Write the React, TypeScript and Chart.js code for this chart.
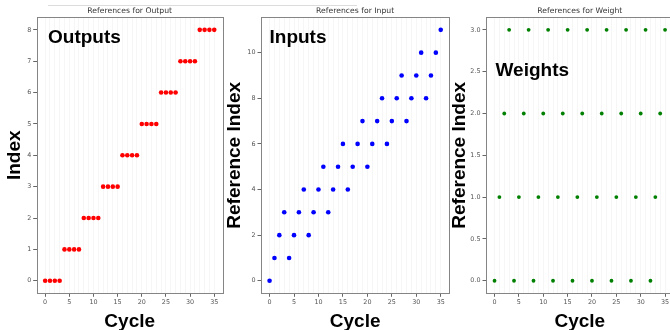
import React, { useEffect, useRef } from "react";
import { Chart, registerables } from "chart.js";

Chart.register(...registerables);

// ---------- data ----------
const cycles = [0, 1, 2, 3, 4, 5, 6, 7, 8, 9, 10, 11, 12, 13, 14, 15, 16, 17, 18, 19, 20, 21, 22, 23, 24, 25, 26, 27, 28, 29, 30, 31, 32, 33, 34, 35];
const outputIndex = [0, 0, 0, 0, 1, 1, 1, 1, 2, 2, 2, 2, 3, 3, 3, 3, 4, 4, 4, 4, 5, 5, 5, 5, 6, 6, 6, 6, 7, 7, 7, 7, 8, 8, 8, 8];
const inputIndex = [0, 1, 2, 3, 1, 2, 3, 4, 2, 3, 4, 5, 3, 4, 5, 6, 4, 5, 6, 7, 5, 6, 7, 8, 6, 7, 8, 9, 7, 8, 9, 10, 8, 9, 10, 11];
const weightIndex = [0, 1, 2, 3, 0, 1, 2, 3, 0, 1, 2, 3, 0, 1, 2, 3, 0, 1, 2, 3, 0, 1, 2, 3, 0, 1, 2, 3, 0, 1, 2, 3, 0, 1, 2, 3];

const xTickLabels = [0, 5, 10, 15, 20, 25, 30, 35];
const outputYTicks = [0, 1, 2, 3, 4, 5, 6, 7, 8];
const inputYTicks = [0, 2, 4, 6, 8, 10];
const weightYTicks = [0, 0.5, 1, 1.5, 2, 2.5, 3];

const TICK_FONT = { family: "DejaVu Sans", size: 6.4 };
const BIG_FONT = "Liberation Sans";

const framePlugin = {
  id: "frame",
  afterDraw(chart: any) {
    const { ctx, chartArea } = chart;
    ctx.save();
    ctx.strokeStyle = "#858585";
    ctx.lineWidth = 1;
    ctx.strokeRect(
      Math.round(chartArea.left) + 0.5,
      Math.round(chartArea.top) + 0.5,
      Math.round(chartArea.right) - Math.round(chartArea.left),
      Math.round(chartArea.bottom) - Math.round(chartArea.top)
    );
    ctx.restore();
  },
};

const annotPlugin = {
  id: "annot",
  afterDraw(chart: any, _args: any, opts: any) {
    if (!opts || !opts.text) return;
    const { ctx } = chart;
    ctx.save();
    ctx.font = `bold ${opts.size}px "${BIG_FONT}"`;
    ctx.fillStyle = "#000";
    ctx.textBaseline = "alphabetic";
    ctx.textAlign = "left";
    ctx.fillText(opts.text, opts.x, opts.y);
    ctx.restore();
  },
};

type PanelCfg = {
  left: number;
  width: number;
  padRight: number;
  yWidth: number;
  yTitlePad: number;
  title: string;
  yTitle: string;
  yMin: number;
  yMax: number;
  yTicks: number[];
  yFmt: (v: number) => string;
  values: number[];
  color: string;
  radius: number;
  annot: { text: string; x: number; y: number; size: number };
};

const H = 333;

function Panel({ cfg }: { cfg: PanelCfg }) {
  const ref = useRef<HTMLCanvasElement | null>(null);
  useEffect(() => {
    if (!ref.current) return;
    const chart = new Chart(ref.current, {
      type: "scatter",
      data: {
        datasets: [
          {
            data: cycles.map((c, i) => ({ x: c, y: cfg.values[i] })),
            backgroundColor: cfg.color,
            borderWidth: 0,
            pointRadius: cfg.radius,
            pointHoverRadius: cfg.radius,
          },
        ],
      },
      options: {
        animation: false,
        responsive: false,
        maintainAspectRatio: false,
        devicePixelRatio: 1,
        events: [],
        layout: { padding: { left: 0, right: cfg.padRight, top: 0, bottom: 0 } },
        plugins: {
          legend: { display: false },
          tooltip: { enabled: false },
          title: {
            display: true,
            text: cfg.title,
            fullSize: false,
            color: "#333",
            font: { family: "DejaVu Sans", size: 7.7, weight: "normal", lineHeight: 1.2 },
            padding: { top: 6.5, bottom: 1.56 },
          },
          annot: cfg.annot,
        } as any,
        scales: {
          x: {
            type: "linear",
            min: -1.75,
            max: 36.75,
            afterBuildTicks: (s: any) => {
              s.ticks = cycles.map((v) => ({ value: v }));
            },
            afterFit: (s: any) => {
              s.height = H - 293.3;
            },
            ticks: {
              autoSkip: false,
              maxRotation: 0,
              padding: 1.5,
              color: "#555",
              font: TICK_FONT,
              callback: (v: any) => (xTickLabels.includes(Number(v)) ? String(v) : ""),
            },
            grid: {
              drawOnChartArea: true,
              color: "rgba(0,0,0,0.035)",
              tickColor: (ctx: any) =>
                ctx.tick && xTickLabels.includes(ctx.tick.value) ? "#666" : "rgba(0,0,0,0)",
              tickLength: 3.5,
              lineWidth: 1,
            },
            border: { display: false },
            title: {
              display: true,
              text: "Cycle",
              color: "#000",
              font: { family: BIG_FONT, size: 19, weight: "bold", lineHeight: 1.2 },
              padding: { top: 0, bottom: 0.3 },
            },
          },
          y: {
            type: "linear",
            min: cfg.yMin,
            max: cfg.yMax,
            afterBuildTicks: (s: any) => {
              s.ticks = cfg.yTicks.map((v) => ({ value: v }));
            },
            afterFit: (s: any) => {
              s.width = cfg.yWidth;
            },
            ticks: {
              autoSkip: false,
              padding: 2,
              color: "#555",
              font: TICK_FONT,
              callback: (v: any) => cfg.yFmt(Number(v)),
            },
            grid: {
              drawOnChartArea: false,
              tickColor: "#666",
              tickLength: 3.5,
              lineWidth: 1,
            },
            border: { display: false },
            title: {
              display: true,
              text: cfg.yTitle,
              color: "#000",
              font: { family: BIG_FONT, size: 19, weight: "bold", lineHeight: 1.2 },
              padding: { top: cfg.yTitlePad, bottom: 0 },
            },
          },
        },
      } as any,
      plugins: [framePlugin, annotPlugin],
    });
    return () => chart.destroy();
  }, [cfg]);
  return (
    <canvas
      ref={ref}
      width={cfg.width}
      height={H}
      style={{ position: "absolute", left: cfg.left, top: 0, width: cfg.width, height: H }}
    />
  );
}

const panels: PanelCfg[] = [
  {
    left: 0,
    width: 230,
    padRight: 7.3,
    yWidth: 36.7,
    yTitlePad: 3.6,
    title: "References for Output",
    yTitle: "Index",
    yMin: -0.4,
    yMax: 8.4,
    yTicks: outputYTicks,
    yFmt: (v) => String(v),
    values: outputIndex,
    color: "#ff0000",
    radius: 2.3,
    annot: { text: "Outputs", x: 48, y: 43, size: 19 },
  },
  {
    left: 222,
    width: 235,
    padRight: 7.7,
    yWidth: 39,
    yTitlePad: 1.6,
    title: "References for Input",
    yTitle: "Reference Index",
    yMin: -0.55,
    yMax: 11.55,
    yTicks: inputYTicks,
    yFmt: (v) => String(v),
    values: inputIndex,
    color: "#0000ff",
    radius: 2.3,
    annot: { text: "Inputs", x: 47.5, y: 43, size: 19 },
  },
  {
    left: 447,
    width: 237,
    padRight: 10.4,
    yWidth: 39,
    yTitlePad: 1.6,
    title: "References for Weight",
    yTitle: "Reference Index",
    yMin: -0.15,
    yMax: 3.15,
    yTicks: weightYTicks,
    yFmt: (v) => v.toFixed(1),
    values: weightIndex,
    color: "#008000",
    radius: 1.9,
    annot: { text: "Weights", x: 48.5, y: 76, size: 19 },
  },
];

export default function App() {
  return (
    <div
      style={{
        position: "absolute",
        left: 0,
        top: 0,
        width: 670,
        height: 330,
        overflow: "hidden",
        background: "#fff",
      }}
    >
      <div
        style={{
          position: "absolute",
          left: 48,
          top: 4.5,
          width: 309,
          height: 1.5,
          background: "#dcdcdc",
        }}
      />
      {panels.map((p, i) => (
        <Panel key={i} cfg={p} />
      ))}
    </div>
  );
}
